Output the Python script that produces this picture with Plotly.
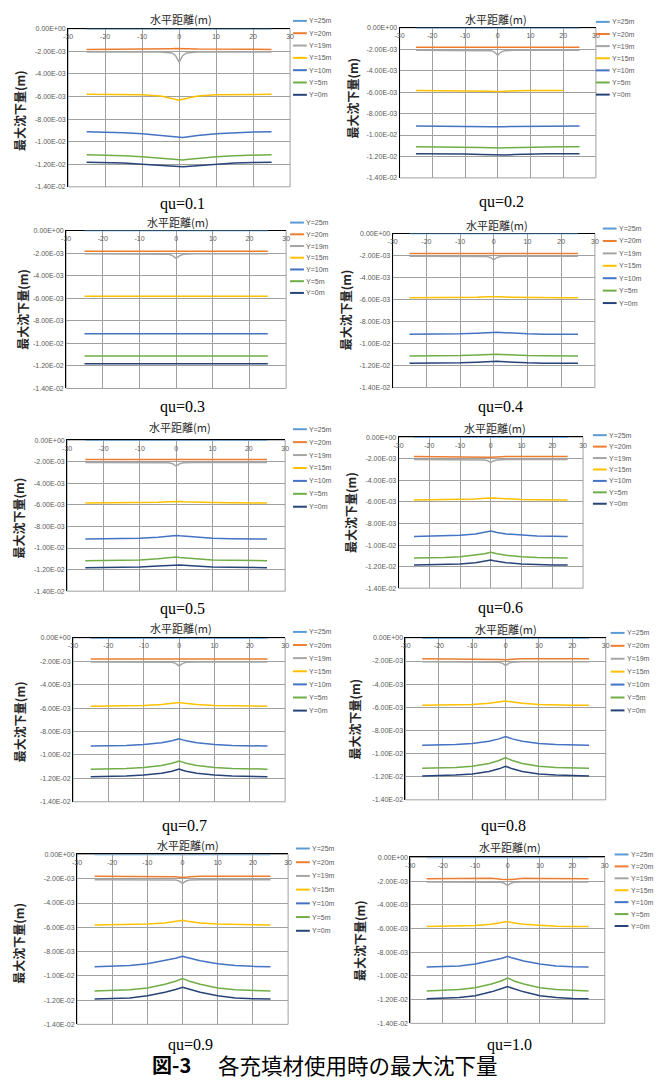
import plotly.graph_objects as go

W, H = 664, 1083

# ---------------- data ----------------
X = [-25, -20, -15, -10, -5, -2, -1, 0, 1, 2, 5, 10, 15, 20, 25]
QU = ["0.1", "0.2", "0.3", "0.4", "0.5", "0.6", "0.7", "0.8", "0.9", "1.0"]
SERIES = ["Y=25m", "Y=20m", "Y=19m", "Y=15m", "Y=10m", "Y=5m", "Y=0m"]
X_TICKS = [-30, -20, -10, 0, 10, 20, 30]
Y_TICKS = [0, -2, -4, -6, -8, -10, -12, -14]  # in 1e-3 m
Y_TICKTEXT = ["0.00E+00", "-2.00E-03", "-4.00E-03", "-6.00E-03", "-8.00E-03",
              "-1.00E-02", "-1.20E-02", "-1.40E-02"]

# values in 1e-3 m, one row per qu panel
ZERO_ROW = [0, 0, 0, 0, 0, 0, 0, 0, 0, 0, 0, 0, 0, 0, 0]
Y25 = [ZERO_ROW, ZERO_ROW, ZERO_ROW, ZERO_ROW, ZERO_ROW,
       ZERO_ROW, ZERO_ROW, ZERO_ROW, ZERO_ROW, ZERO_ROW]

Y20 = [
    [-1.82, -1.82, -1.82, -1.81, -1.79, -1.76, -1.75, -1.74, -1.75, -1.76, -1.79, -1.81, -1.82, -1.82, -1.82],
    [-1.81, -1.81, -1.81, -1.81, -1.81, -1.82, -1.82, -1.83, -1.82, -1.82, -1.81, -1.81, -1.81, -1.81, -1.81],
    [-1.84, -1.84, -1.84, -1.84, -1.84, -1.84, -1.85, -1.85, -1.85, -1.84, -1.84, -1.84, -1.84, -1.84, -1.84],
    [-1.82, -1.82, -1.82, -1.82, -1.82, -1.82, -1.83, -1.83, -1.83, -1.82, -1.82, -1.82, -1.82, -1.82, -1.82],
    [-1.80, -1.80, -1.80, -1.80, -1.80, -1.82, -1.84, -1.85, -1.84, -1.82, -1.80, -1.80, -1.80, -1.80, -1.80],
    [-1.79, -1.79, -1.79, -1.79, -1.79, -1.83, -1.85, -1.87, -1.85, -1.83, -1.79, -1.79, -1.79, -1.79, -1.79],
    [-1.81, -1.81, -1.81, -1.81, -1.81, -1.83, -1.85, -1.86, -1.85, -1.83, -1.81, -1.81, -1.81, -1.81, -1.81],
    [-1.81, -1.81, -1.81, -1.81, -1.80, -1.84, -1.86, -1.88, -1.86, -1.84, -1.80, -1.81, -1.81, -1.81, -1.81],
    [-1.80, -1.80, -1.80, -1.80, -1.79, -1.84, -1.87, -1.89, -1.87, -1.84, -1.79, -1.80, -1.80, -1.80, -1.80],
    [-1.79, -1.79, -1.79, -1.78, -1.76, -1.83, -1.86, -1.88, -1.86, -1.83, -1.76, -1.78, -1.79, -1.79, -1.79],
]

Y19 = [
    [-2.06, -2.06, -2.06, -2.06, -2.06, -2.14, -2.36, -2.94, -2.36, -2.14, -2.06, -2.06, -2.06, -2.06, -2.06],
    [-2.09, -2.09, -2.09, -2.09, -2.09, -2.13, -2.26, -2.56, -2.26, -2.13, -2.09, -2.09, -2.09, -2.09, -2.09],
    [-2.06, -2.06, -2.06, -2.06, -2.06, -2.11, -2.22, -2.47, -2.22, -2.11, -2.06, -2.06, -2.06, -2.06, -2.06],
    [-2.06, -2.06, -2.06, -2.06, -2.06, -2.10, -2.18, -2.40, -2.18, -2.10, -2.06, -2.06, -2.06, -2.06, -2.06],
    [-2.06, -2.06, -2.06, -2.06, -2.06, -2.10, -2.18, -2.40, -2.18, -2.10, -2.06, -2.06, -2.06, -2.06, -2.06],
    [-2.08, -2.08, -2.08, -2.08, -2.08, -2.11, -2.18, -2.35, -2.18, -2.11, -2.08, -2.08, -2.08, -2.08, -2.08],
    [-2.05, -2.05, -2.05, -2.05, -2.05, -2.09, -2.18, -2.40, -2.18, -2.09, -2.05, -2.05, -2.05, -2.05, -2.05],
    [-2.06, -2.06, -2.06, -2.06, -2.06, -2.10, -2.18, -2.40, -2.18, -2.10, -2.06, -2.06, -2.06, -2.06, -2.06],
    [-2.08, -2.08, -2.08, -2.08, -2.08, -2.11, -2.19, -2.38, -2.19, -2.11, -2.08, -2.08, -2.08, -2.08, -2.08],
    [-2.07, -2.07, -2.07, -2.07, -2.07, -2.10, -2.18, -2.36, -2.18, -2.10, -2.07, -2.07, -2.07, -2.07, -2.07],
]

Y15 = [
    [-5.80, -5.80, -5.81, -5.84, -5.96, -6.16, -6.24, -6.32, -6.24, -6.16, -5.96, -5.84, -5.81, -5.80, -5.80],
    [-5.84, -5.84, -5.84, -5.85, -5.87, -5.91, -5.93, -5.95, -5.93, -5.91, -5.87, -5.85, -5.84, -5.84, None],
    [-5.82, -5.82, -5.82, -5.83, -5.85, -5.86, -5.87, -5.88, -5.87, -5.86, -5.85, -5.83, -5.82, -5.82, -5.82],
    [-5.84, -5.84, -5.83, -5.82, -5.79, -5.76, -5.75, -5.73, -5.75, -5.76, -5.79, -5.82, -5.83, -5.84, -5.84],
    [-5.82, -5.82, -5.81, -5.79, -5.75, -5.70, -5.68, -5.66, -5.68, -5.70, -5.75, -5.79, -5.81, -5.82, -5.82],
    [-5.82, -5.81, -5.80, -5.78, -5.72, -5.66, -5.63, -5.60, -5.63, -5.66, -5.72, -5.78, -5.80, -5.81, -5.82],
    [-5.83, -5.82, -5.81, -5.77, -5.69, -5.61, -5.57, -5.52, -5.57, -5.61, -5.69, -5.77, -5.81, -5.82, -5.83],
    [-5.83, -5.82, -5.80, -5.75, -5.66, -5.56, -5.51, -5.45, -5.51, -5.56, -5.66, -5.75, -5.80, -5.82, -5.83],
    [-5.81, -5.80, -5.78, -5.73, -5.64, -5.54, -5.49, -5.43, -5.49, -5.54, -5.64, -5.73, -5.78, -5.80, -5.81],
    [-5.83, -5.82, -5.80, -5.75, -5.64, -5.53, -5.47, -5.41, -5.47, -5.53, -5.64, -5.75, -5.80, -5.82, -5.83],
]

Y10 = [
    [-9.12, -9.15, -9.20, -9.30, -9.45, -9.58, -9.62, -9.65, -9.62, -9.58, -9.45, -9.30, -9.20, -9.15, -9.12],
    [-9.15, -9.15, -9.16, -9.17, -9.20, -9.22, -9.23, -9.24, -9.23, -9.22, -9.20, -9.17, -9.16, -9.15, -9.15],
    [-9.15, -9.15, -9.15, -9.14, -9.12, -9.10, -9.10, -9.09, -9.10, -9.10, -9.12, -9.14, -9.15, -9.15, -9.15],
    [-9.16, -9.16, -9.15, -9.12, -9.06, -9.00, -8.98, -8.96, -8.98, -9.00, -9.06, -9.12, -9.15, -9.16, -9.16],
    [-9.17, -9.16, -9.14, -9.10, -9.00, -8.90, -8.87, -8.83, -8.87, -8.90, -9.00, -9.10, -9.14, -9.16, -9.17],
    [-9.20, -9.19, -9.16, -9.10, -8.97, -8.84, -8.77, -8.70, -8.77, -8.84, -8.97, -9.10, -9.16, -9.19, -9.20],
    [-9.24, -9.22, -9.19, -9.11, -8.96, -8.79, -8.71, -8.62, -8.71, -8.79, -8.96, -9.11, -9.19, -9.22, -9.24],
    [-9.28, -9.26, -9.22, -9.13, -8.94, -8.73, -8.63, -8.52, -8.63, -8.73, -8.94, -9.13, -9.22, -9.26, -9.28],
    [-9.25, -9.22, -9.15, -9.00, -8.75, -8.55, -8.47, -8.39, -8.47, -8.55, -8.75, -9.00, -9.15, -9.22, -9.25],
    [-9.25, -9.22, -9.15, -9.00, -8.74, -8.53, -8.44, -8.35, -8.44, -8.53, -8.74, -9.00, -9.15, -9.22, -9.25],
]

Y5 = [
    [-11.15, -11.18, -11.24, -11.33, -11.47, -11.58, -11.62, -11.65, -11.62, -11.58, -11.47, -11.33, -11.24, -11.18, -11.15],
    [-11.10, -11.10, -11.11, -11.13, -11.17, -11.20, -11.22, -11.23, -11.22, -11.20, -11.17, -11.13, -11.11, -11.10, -11.10],
    [-11.12, -11.12, -11.12, -11.12, -11.12, -11.11, -11.11, -11.11, -11.11, -11.11, -11.12, -11.12, -11.12, -11.12, -11.12],
    [-11.13, -11.13, -11.12, -11.10, -11.04, -10.99, -10.97, -10.95, -10.97, -10.99, -11.04, -11.10, -11.12, -11.13, -11.13],
    [-11.17, -11.16, -11.14, -11.10, -11.00, -10.90, -10.87, -10.83, -10.87, -10.90, -11.00, -11.10, -11.14, -11.16, -11.17],
    [-11.20, -11.19, -11.16, -11.09, -10.95, -10.81, -10.73, -10.66, -10.73, -10.81, -10.95, -11.09, -11.16, -11.19, -11.20],
    [-11.21, -11.19, -11.15, -11.07, -10.89, -10.71, -10.61, -10.51, -10.61, -10.71, -10.89, -11.07, -11.15, -11.19, -11.21],
    [-11.28, -11.25, -11.20, -11.09, -10.86, -10.60, -10.48, -10.35, -10.48, -10.60, -10.86, -11.09, -11.20, -11.25, -11.28],
    [-11.25, -11.22, -11.15, -11.00, -10.70, -10.45, -10.33, -10.22, -10.33, -10.45, -10.70, -11.00, -11.15, -11.22, -11.25],
    [-11.26, -11.23, -11.15, -11.00, -10.68, -10.42, -10.29, -10.17, -10.29, -10.42, -10.68, -11.00, -11.15, -11.23, -11.26],
]

Y0 = [
    [-11.82, -11.85, -11.90, -12.00, -12.12, -12.20, -12.22, -12.24, -12.22, -12.20, -12.12, -12.00, -11.90, -11.85, -11.82],
    [-11.75, -11.75, -11.76, -11.78, -11.83, -11.87, -11.89, -11.90, -11.89, -11.87, -11.83, -11.78, -11.76, -11.75, -11.75],
    [-11.80, -11.80, -11.80, -11.80, -11.80, -11.81, -11.81, -11.82, -11.81, -11.81, -11.80, -11.80, -11.80, -11.80, -11.80],
    [-11.80, -11.80, -11.79, -11.76, -11.70, -11.64, -11.62, -11.60, -11.62, -11.64, -11.70, -11.76, -11.79, -11.80, -11.80],
    [-11.82, -11.81, -11.79, -11.75, -11.67, -11.59, -11.57, -11.54, -11.57, -11.59, -11.67, -11.75, -11.79, -11.81, -11.82],
    [-11.85, -11.84, -11.81, -11.75, -11.63, -11.51, -11.45, -11.38, -11.45, -11.51, -11.63, -11.75, -11.81, -11.84, -11.85],
    [-11.86, -11.84, -11.80, -11.72, -11.56, -11.39, -11.30, -11.21, -11.30, -11.39, -11.56, -11.72, -11.80, -11.84, -11.86],
    [-11.94, -11.91, -11.86, -11.76, -11.55, -11.32, -11.21, -11.10, -11.21, -11.32, -11.55, -11.76, -11.86, -11.91, -11.94],
    [-11.92, -11.89, -11.82, -11.64, -11.36, -11.12, -11.03, -10.94, -11.03, -11.12, -11.36, -11.64, -11.82, -11.89, -11.92],
    [-11.93, -11.90, -11.82, -11.66, -11.34, -11.08, -10.99, -10.90, -10.99, -11.08, -11.34, -11.66, -11.82, -11.90, -11.93],
]

# ---------------- styles / layout geometry (pixels) ----------------
COLORS = ["#5B9BD5", "#ED7D31", "#A5A5A5", "#FFC000", "#4472C4", "#70AD47", "#264478"]
GRID = "#A0A0A0"
TICKCOL = "#595959"
CJK = "Noto Sans CJK JP"

# plot box: left, right, top, bottom
BOX = [(64, 289, 25, 184), (400, 599, 24, 175),
       (62, 285, 228, 387), (393, 598, 231, 386),
       (63, 284, 439, 591), (399, 586, 436, 588),
       (69, 284, 638, 803), (406, 609, 638, 801),
       (73, 287, 856, 1027), (411, 608, 859, 1026)]
# legend: line start x, first item y, spacing
LEG = [(292, 17, 12.4), (599, 18, 12.2),
       (289, 220, 11.8), (606, 226, 12.5),
       (292, 428, 13.0), (596, 434, 11.5),
       (292, 632, 13.2), (614, 633, 13.0),
       (295, 850, 13.8), (618, 856, 12.0)]
XTITLE = [(178, 18), (498, 18), (175, 222), (499, 225), (177, 429),
          (497, 430), (178, 631), (508, 632), (186, 849), (512, 851)]
YTITLE = [(18, 107), (355, 95), (20, 307), (348, 308), (17, 517),
          (353, 512), (18, 722), (357, 720), (17, 945), (363, 943)]
CAPTION = [(180, 202), (503, 200), (180, 407), (502, 407), (180, 610),
           (502, 609), (182, 828), (505, 828), (188, 1049), (511, 1049)]
CJK_SHIFT = 3  # CJK glyphs render lower than the anchor estimate
FIG_CAPTION_Y = 1067

ALL = [Y25, Y20, Y19, Y15, Y10, Y5, Y0]


def fx(p):
    return p / W


def fy(p):
    return 1 - p / H


fig = go.Figure()
annotations = []
shapes = []
layout = {}

for i in range(10):
    k = "" if i == 0 else str(i + 1)
    xa, ya = "x" + k, "y" + k
    for s, name in enumerate(SERIES):
        fig.add_trace(go.Scatter(
            x=X, y=ALL[s][i], mode="lines", name=name,
            line=dict(color=COLORS[s], width=1.5),
            xaxis=xa, yaxis=ya, showlegend=False, cliponaxis=False,
            hoverinfo="skip"))
    l, r, t, b = BOX[i]
    tickfont = dict(family="Liberation Sans, Arial", size=7, color=TICKCOL)
    layout["xaxis" + k] = dict(
        domain=[fx(l), fx(r)], anchor=ya, range=[-30, 30], side="top",
        tickvals=X_TICKS, ticktext=[str(v) for v in X_TICKS],
        ticklabelposition="inside", ticklabeloverflow="allow",
        ticklabelstandoff=4,
        showline=True, linecolor="black", linewidth=1,
        showgrid=True, gridcolor=GRID, gridwidth=1, zeroline=False,
        ticks="", tickfont=tickfont, layer="below traces", fixedrange=True)
    layout["yaxis" + k] = dict(
        domain=[fy(b), fy(t)], anchor=xa, range=[-14, 0],
        tickvals=Y_TICKS, ticktext=Y_TICKTEXT,
        showline=True, linecolor="black", linewidth=1,
        showgrid=True, gridcolor=GRID, gridwidth=1, zeroline=False,
        ticks="", tickfont=tickfont, layer="below traces", fixedrange=True)
    shapes.append(dict(type="rect", xref=xa + " domain", yref=ya + " domain",
                       x0=0, x1=1, y0=0, y1=1, layer="below",
                       line=dict(color=GRID, width=1)))
    # titles
    tx, ty = XTITLE[i]
    annotations.append(dict(x=fx(tx), y=fy(ty - CJK_SHIFT), xref="paper", yref="paper",
                            text="水平距離(m)", showarrow=False,
                            xanchor="center", yanchor="middle",
                            font=dict(family=CJK, size=11, color="#262626")))
    yx, yy = YTITLE[i]
    annotations.append(dict(x=fx(yx - CJK_SHIFT), y=fy(yy), xref="paper", yref="paper",
                            text="<b>最大沈下量(m)</b>", showarrow=False, textangle=-90,
                            xanchor="center", yanchor="middle",
                            font=dict(family=CJK, size=12, color="#262626")))
    cx, cy = CAPTION[i]
    annotations.append(dict(x=fx(cx), y=fy(cy - 1), xref="paper", yref="paper",
                            text="qu=" + QU[i], showarrow=False,
                            xanchor="center", yanchor="middle",
                            font=dict(family="Liberation Serif, Times New Roman", size=16, color="black")))
    # legend (drawn manually for compact spacing)
    lx, ly, sp = LEG[i]
    for s, name in enumerate(SERIES):
        yy_ = ly + s * sp
        shapes.append(dict(type="line", xref="paper", yref="paper",
                           x0=fx(lx), x1=fx(lx + 14), y0=fy(yy_), y1=fy(yy_),
                           line=dict(color=COLORS[s], width=2)))
        annotations.append(dict(x=fx(lx + 14.5), y=fy(yy_), xref="paper", yref="paper",
                                text=name, showarrow=False, xanchor="left", yanchor="middle",
                                font=dict(family="Liberation Sans, Arial", size=7, color=TICKCOL)))

# figure caption
annotations.append(dict(x=fx(147), y=fy(FIG_CAPTION_Y), xref="paper", yref="paper",
                        text="<b>図-3</b>", showarrow=False, xanchor="left", yanchor="middle",
                        font=dict(family=CJK, size=20, color="black")))
annotations.append(dict(x=fx(214), y=fy(FIG_CAPTION_Y), xref="paper", yref="paper",
                        text="各充填材使用時の最大沈下量", showarrow=False,
                        xanchor="left", yanchor="middle",
                        font=dict(family=CJK, size=21.5, color="black")))

fig.update_layout(
    width=W, height=H, margin=dict(l=0, r=0, t=0, b=0),
    paper_bgcolor="white", plot_bgcolor="white",
    showlegend=False, annotations=annotations, shapes=shapes, **layout)

fig.write_html("out.html",
               config={"displayModeBar": False, "staticPlot": True},
               post_script="document.body.style.margin='0';"
                           "document.body.style.overflow='hidden';")
